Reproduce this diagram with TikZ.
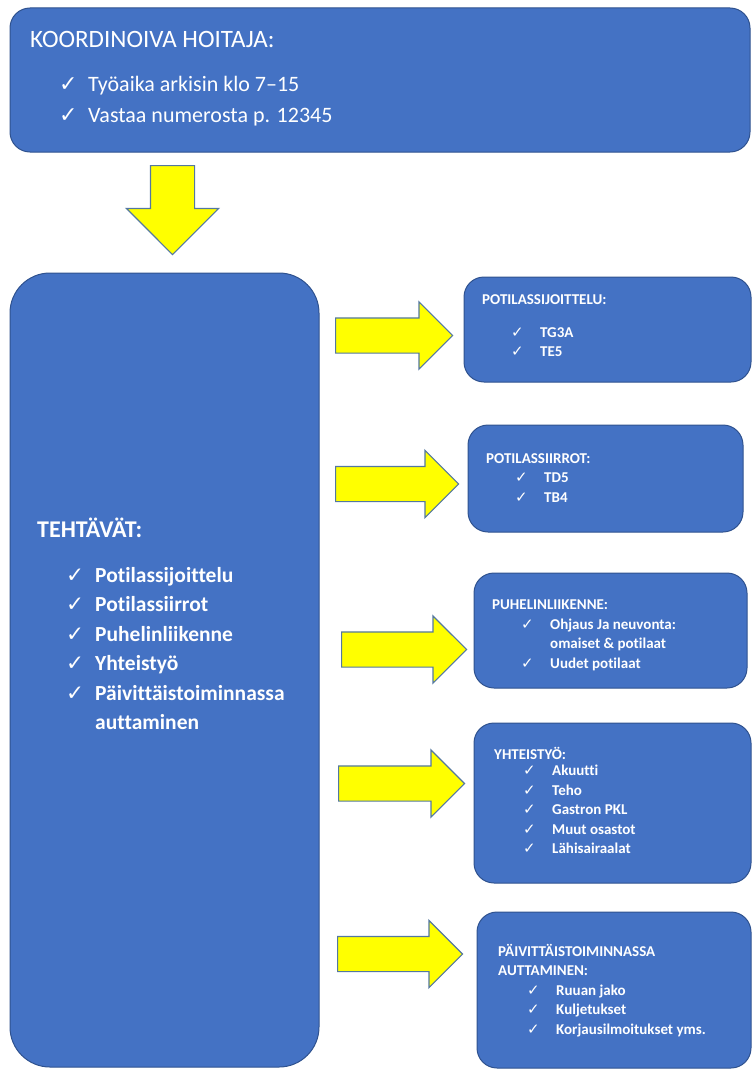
\documentclass[tikz,border=0pt]{standalone}
\usepackage{fontspec}
\setmainfont{Carlito}[Ligatures=NoCommon]
\newfontfamily\checkfont{DejaVu Sans}
\usetikzlibrary{shapes.arrows, positioning}
\definecolor{boxblue}{RGB}{68, 114, 196}
\definecolor{borderblue}{RGB}{47, 82, 143}
\definecolor{arrowyellow}{RGB}{255, 255, 0}
\definecolor{arrowborder}{RGB}{84, 120, 160}
\newcommand{\chk}{\hspace*{29pt}\makebox[29pt][l]{\checkfont ✓}}
\newcommand{\wrapind}{\hspace*{58pt}}
\tikzset{
  bluebox/.style={
    rectangle, rounded corners=20pt, draw=borderblue, fill=boxblue,
    line width=1pt, inner sep=0pt
  },
  boxtext/.style={
    text=white, align=left, inner sep=0pt, anchor=base west
  },
  smalltext/.style={
    boxtext, font=\bfseries\fontsize{15}{19.5}\selectfont
  },
  yarrow/.style={
    single arrow, draw=arrowborder, fill=arrowyellow, line width=1.2pt,
    inner xsep=0pt, inner ysep=17pt, minimum width=0pt,
    single arrow head extend=16pt, single arrow tip angle=90, anchor=tail
  }
}

\begin{document}
\begin{tikzpicture}[x=1pt, y=-1pt]
  \useasboundingbox (0,0) rectangle (752,1070);

  %% ---- Boxes ----
  \node[bluebox, minimum width=740pt, minimum height=144pt] (coord) at (380,80) {};
  \node[bluebox, rounded corners=40pt, minimum width=309pt, minimum height=794pt]
    (tasks) at (164.5,670) {};

  \node[bluebox, minimum width=287pt, minimum height=105pt] (sijoittelu) at (607.5,329.5) {};
  \node[bluebox, minimum width=275pt, minimum height=107pt] (siirrot) at (605.5,478.5) {};
  \node[bluebox, minimum width=273pt, minimum height=115pt] (puhelin) at (610.5,630.5) {};
  \node[bluebox, minimum width=277pt, minimum height=160pt] (yhteistyo) at (612.5,803) {};
  \node[bluebox, minimum width=274pt, minimum height=156pt] (arki) at (614,990) {};

  %% ---- Texts (placed at the baseline of their last line) ----
  \node[boxtext, font=\fontsize{22}{31}\selectfont] (coordtext) at (30,122)
    {{\fontsize{25}{30}\selectfont KOORDINOIVA HOITAJA:}\\[12pt]
     \chk Työaika arkisin klo 7–15\\
     \chk Vastaa numerosta p. 12345};

  \node[boxtext, font=\bfseries\fontsize{21.5}{29.5}\selectfont] (taskstext) at (37,729.5)
    {{\fontsize{24}{29}\selectfont TEHTÄVÄT:}\\[15.5pt]
     \chk Potilassijoittelu\\
     \chk Potilassiirrot\\
     \chk Puhelinliikenne\\
     \chk Yhteistyö\\
     \chk Päivittäistoiminnassa\\
     \wrapind auttaminen};

  \node[smalltext] (sijoittelutext) at (482,356.5)
    {POTILASSIJOITTELU:\\[13pt]
     \chk TG3A\\
     \chk TE5};

  \node[smalltext] (siirrottext) at (486,502)
    {POTILASSIIRROT:\\
     \chk TD5\\
     \chk TB4};

  \node[smalltext] (puhelintext) at (492,668)
    {PUHELINLIIKENNE:\\
     \chk Ohjaus Ja neuvonta:\\
     \wrapind omaiset \& potilaat\\
     \chk Uudet potilaat};

  \node[smalltext] (yhteistyotext) at (494,853.5)
    {YHTEISTYÖ:\\[-3pt]
     \chk Akuutti\\
     \chk Teho\\
     \chk Gastron PKL\\
     \chk Muut osastot\\
     \chk Lähisairaalat};

  \node[smalltext] (arkitext) at (498,1034)
    {PÄIVITTÄISTOIMINNASSA\\
     AUTTAMINEN:\\
     \chk Ruuan jako\\
     \chk Kuljetukset\\
     \chk Korjausilmoitukset yms.};

  %% ---- Block arrows ----
  \node[yarrow, rotate=-90, inner ysep=21.5pt, single arrow head extend=24pt,
    minimum height=89pt] (down) at (172.5,165) {};

  \node[yarrow, minimum height=117pt] (a1) at (335,335.5) {};
  \node[yarrow, minimum height=123pt] (a2) at (335,484) {};
  \node[yarrow, minimum height=125pt] (a3) at (341,649.5) {};
  \node[yarrow, minimum height=126pt] (a4) at (338,783.5) {};
  \node[yarrow, minimum height=125pt] (a5) at (337,954) {};

\end{tikzpicture}
\end{document}
